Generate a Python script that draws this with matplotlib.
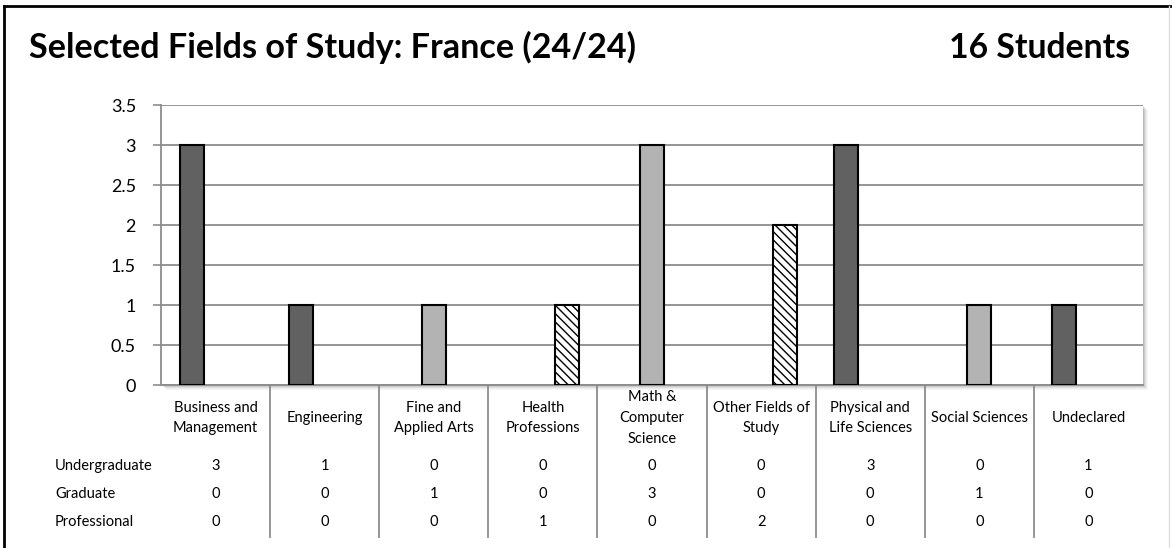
import numpy as np
import matplotlib
matplotlib.use('Agg')
import matplotlib.pyplot as plt
from matplotlib.patches import Rectangle
from matplotlib.lines import Line2D

plt.rcParams['font.family'] = ['Lato', 'DejaVu Sans']
plt.rcParams['hatch.linewidth'] = 1.0

# data
categories = ['Business and\nManagement', 'Engineering', 'Fine and\nApplied Arts',
              'Health\nProfessions', 'Math &\nComputer\nScience', 'Other Fields of\nStudy',
              'Physical and\nLife Sciences', 'Social Sciences', 'Undeclared']
undergraduate = [3, 1, 0, 0, 0, 0, 3, 0, 1]
graduate = [0, 0, 1, 0, 3, 0, 0, 1, 0]
professional = [0, 0, 0, 1, 0, 2, 0, 0, 0]
series_names = ['Undergraduate', 'Graduate', 'Professional']
yticks = [0, 0.5, 1, 1.5, 2, 2.5, 3, 3.5]
title = 'Selected Fields of Study: France (24/24)'
count_label = '16 Students'

W, H = 1172, 548
fig = plt.figure(figsize=(W / 100, H / 100), dpi=100)

# plot area (pixel box)
left, top, right, bottom = 161, 105, 1143, 385
ax = fig.add_axes([left / W, 1 - bottom / H, (right - left) / W, (bottom - top) / H])

# soft drop shadow behind plot area
for i, a in enumerate([0.10, 0.08, 0.06, 0.04, 0.03]):
    off = i + 1
    fig.add_artist(Rectangle(((left + off) / W, 1 - (bottom + off) / H),
                             (right - left) / W, (bottom - top) / H,
                             transform=fig.transFigure, facecolor='black',
                             edgecolor='none', alpha=a, zorder=-5))

x = np.arange(len(categories))
bw = 0.22


def lw(vals):
    # no outline on empty bars
    return [1.5 if v else 0 for v in vals]


ax.bar(x - bw, undergraduate, bw, color='#616161', edgecolor='black',
       linewidth=lw(undergraduate), zorder=3)
ax.bar(x, graduate, bw, color='#b3b3b3', edgecolor='black',
       linewidth=lw(graduate), zorder=3)
ax.bar(x + bw, professional, bw, color='white', edgecolor='black',
       linewidth=lw(professional), hatch='\\\\\\\\', zorder=3)

ax.set_xlim(-0.5, len(categories) - 0.5)
ax.set_ylim(0, 3.5)
ax.set_yticks(yticks)
ax.set_yticklabels([f'{t:g}' for t in yticks], fontsize=13)
ax.tick_params(axis='y', length=6, color='#8c8c8c', width=1.2, pad=12)
ax.set_xticks([])
ax.grid(axis='y', color='#8c8c8c', linewidth=1.3, zorder=0)
ax.set_axisbelow(True)
for s in ['top', 'right']:
    ax.spines[s].set_visible(False)
ax.spines['left'].set_color('#8c8c8c')
ax.spines['left'].set_linewidth(1.3)
ax.spines['bottom'].set_color('#8c8c8c')
ax.spines['bottom'].set_linewidth(1.3)

# data table
tr = ax.get_xaxis_transform()
px = 1 / (bottom - top)  # one pixel in axes units
for b in np.arange(0.5, len(categories) - 1, 1.0):
    ax.plot([b, b], [0, -(537 - bottom) * px], transform=tr, color='#8c8c8c',
            linewidth=1.3, clip_on=False)

for i, c in enumerate(categories):
    ax.text(i, -(418 - bottom) * px, c, transform=tr, ha='center', va='center',
            fontsize=10.5, linespacing=1.6)

rows_y = [466, 494, 522]
for name, vals, yy in zip(series_names, [undergraduate, graduate, professional], rows_y):
    fig.text(55 / W, 1 - yy / H, name, ha='left', va='center', fontsize=10.5)
    for i, v in enumerate(vals):
        ax.text(i, -(yy - bottom) * px, str(v), transform=tr, ha='center',
                va='center', fontsize=10.5)

# titles
fig.text(29 / W, 1 - 58 / H, title, ha='left', va='baseline', fontsize=24.6,
         fontweight='bold')
fig.text(1130 / W, 1 - 58 / H, count_label, ha='right', va='baseline', fontsize=24.3,
         fontweight='bold')

# outer frame
fig.add_artist(Line2D([4 / W, 4 / W], [0, 1 - 6 / H], color='black', linewidth=2))
fig.add_artist(Line2D([4 / W, 1], [1 - 6 / H, 1 - 6 / H], color='black', linewidth=2))
fig.add_artist(Line2D([1169 / W, 1169 / W], [0, 1 - 6 / H], color='#e0e0e0', linewidth=1))

fig.savefig('out.png', dpi=100)
